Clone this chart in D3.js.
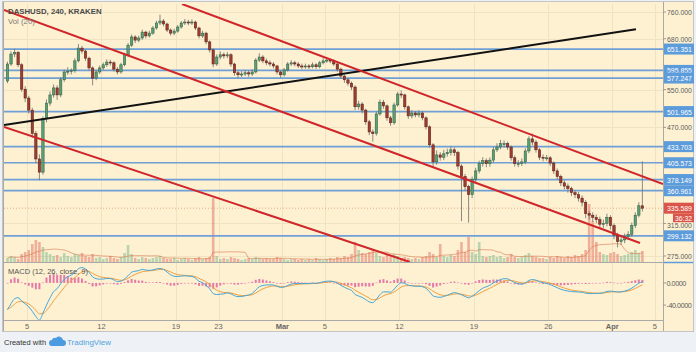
<!DOCTYPE html>
<html lang="en">
<head>
<meta charset="UTF-8">
<title>DASHUSD, 240, KRAKEN</title>
<script src="https://d3js.org/d3.v7.min.js"></script>
<style>
  body { margin: 0; background: #eef1f5; }
  svg text { font-family: "Liberation Sans", Arial, sans-serif; }
</style>
</head>
<body>
<div id="chart"></div>
<script>
// 8h candles starting 2018-02-03 04:00 UTC
const startTime = Date.UTC(2018, 1, 3, 4);
const stepMs = 8 * 3600 * 1000;
const firstOpen = 570;

const closes = [612,638,642,610,551,531,505,458,412,390,
  487,520,538,554,538,573,592,594,596,620,
  654,646,627,602,577,592,602,610,617,615,
  599,592,610,636,662,685,676,682,699,688,
  696,711,726,732,723,705,696,702,714,726,
  729,726,729,711,688,696,671,649,612,630,
  636,633,636,612,590,585,587,590,587,592,
  622,630,620,615,612,607,592,585,597,612,
  615,612,607,605,607,605,610,605,615,620,
  622,620,612,599,582,573,565,556,512,518,
  505,481,461,458,497,522,514,489,479,516,
  540,538,512,493,499,495,499,489,471,437,
  407,419,415,421,423,428,423,400,383,367,
  355,378,392,404,409,404,410,428,433,439,
  439,433,414,404,404,407,426,448,442,428,
  415,414,414,405,392,383,373,368,364,358,
  355,350,344,328,326,323,320,314,315,323,
  312,300,292,294,298,301,312,326,339,335.589];

const highs = [618,645,652,646,614,558,536,510,463,420,
  492,528,546,562,560,579,598,604,601,627,
  665,660,650,631,606,597,608,616,624,623,
  619,604,615,641,668,692,690,689,706,703,
  703,717,733,752,738,727,710,709,720,732,
  738,736,737,733,715,703,700,675,653,637,
  645,642,643,640,615,595,594,597,596,599,
  627,640,635,626,621,617,610,596,602,617,
  622,620,617,613,613,612,616,614,620,627,
  629,627,624,615,603,586,578,569,560,525,
  522,508,485,466,502,528,527,517,493,521,
  545,548,541,515,505,503,505,503,492,474,
  440,427,424,428,430,434,432,426,403,387,
  370,383,397,409,415,413,415,433,440,446,
  445,443,436,418,410,413,431,453,458,446,
  431,420,419,417,408,396,386,377,372,367,
  362,359,354,347,332,330,327,324,320,328,
  326,315,303,299,302,305,316,330,344,408];

const lows = [565,607,630,604,545,522,498,450,405,377,
  386,480,514,532,527,533,568,585,586,590,
  616,639,620,596,560,572,587,597,605,608,
  593,586,588,606,631,657,668,670,677,681,
  683,691,706,720,716,699,689,690,697,709,
  720,719,720,705,681,682,664,642,604,607,
  624,626,627,605,583,577,580,582,580,582,
  588,617,614,609,606,601,586,578,581,593,
  607,606,602,599,600,599,601,600,601,611,
  615,614,607,593,576,566,559,549,505,506,
  498,475,455,443,454,493,508,483,473,475,
  512,531,506,487,488,490,490,484,466,432,
  398,402,409,410,416,418,417,394,318,361,
  316,350,374,388,399,398,399,406,424,429,
  432,428,409,399,398,400,403,422,436,423,
  410,408,409,400,387,378,368,363,358,353,
  350,345,338,322,320,317,315,309,309,311,
  307,295,285,288,290,294,298,309,323,331];

const volumes = [4,6,5,3,8,10,12,18,22,20,
  15,10,8,6,7,5,9,6,5,8,
  7,9,6,5,8,4,5,3,4,6,
  4,3,5,9,17,8,4,3,5,4,
  3,4,5,6,4,3,3,4,2,3,
  4,3,2,4,5,3,4,5,64,6,
  3,4,3,5,4,3,2,3,4,3,
  5,4,3,4,3,3,5,4,3,2,
  3,3,2,3,2,3,2,4,3,2,
  3,4,3,5,4,6,5,8,20,12,
  9,8,10,12,9,6,5,7,5,8,
  6,4,5,4,3,4,3,5,6,10,
  8,5,18,6,5,7,6,12,20,10,
  25,10,8,20,6,5,6,7,5,6,
  4,5,8,5,4,5,7,9,6,5,
  4,4,3,5,4,6,5,4,6,5,
  7,6,8,12,58,41,20,10,8,7,
  9,10,8,6,7,8,10,12,9,11];

// closes before the visible range, only to warm up the MACD averages
const warmupCloses = [800, 790, 775, 760, 740, 720, 700, 680, 655, 630, 600, 570, 545];

const levels = [651.351, 595.855, 577.247, 501.965, 433.703, 405.573, 378.149, 360.961, 299.132];
const lastPrice = 335.589;
const countdown = "36:32";
const priceTicks = [760, 680, 550, 470, 315, 275];
const macdTicks = [0, -40];
const dateTicks = [["2018-02-05", "5"], ["2018-02-12", "12"], ["2018-02-19", "19"], ["2018-02-23", "23"],
  ["2018-03-01", "Mar"], ["2018-03-05", "5"], ["2018-03-12", "12"], ["2018-03-19", "19"],
  ["2018-03-26", "26"], ["2018-04-01", "Apr"], ["2018-04-05", "5"]];

const trendLines = [
  { color: "#111111", pts: [["2018-02-02T20:10Z", 474.5], ["2018-04-03T05:30Z", 707]] },
  { color: "#d0262a", pts: [["2018-02-19T13:40Z", 785.8], ["2018-04-05T18:30Z", 371.2]] },
  { color: "#d0262a", pts: [["2018-02-02T20:10Z", 766.4], ["2018-04-03T14:40Z", 290.3]] },
  { color: "#d0262a", pts: [["2018-02-02T20:10Z", 470.7], ["2018-03-12T23:45Z", 268.2]] }
];

const W = 696, H = 352;
const left = 4, right = 663, mainTop = 4, mainBottom = 262, macdTop = 263, macdBottom = 320;

const svg = d3.select("#chart").append("svg").attr("width", W).attr("height", H);

svg.append("rect").attr("width", W).attr("height", H).attr("fill", "#eef1f5");
svg.append("rect").attr("x", 2.5).attr("y", 1.5).attr("width", 691).attr("height", 330)
  .attr("fill", "#fdf1d2").attr("stroke", "#c4c4c4");

const x = d3.scaleUtc()
  .domain([new Date("2018-02-02T20:10:00Z"), new Date("2018-04-05T18:30:00Z")])
  .range([left, right]);
const y = d3.scaleLog().domain([268.2, 785.8]).range([mainBottom, mainTop]);
const yVol = d3.scaleLinear().domain([0, 100]).range([mainBottom, mainBottom - 100]);
const yMacd = d3.scaleLinear().domain([-67, 36]).range([macdBottom, macdTop]);

const candles = closes.map((c, i) => ({
  t: new Date(startTime + i * stepMs),
  o: i ? closes[i - 1] : firstOpen,
  c: c, h: highs[i], l: lows[i], v: volumes[i]
}));

const defs = svg.append("defs");
defs.append("clipPath").attr("id", "clipMain").append("rect")
  .attr("x", left).attr("y", mainTop).attr("width", right - left).attr("height", mainBottom - mainTop);
defs.append("clipPath").attr("id", "clipMacd").append("rect")
  .attr("x", left).attr("y", macdTop).attr("width", right - left).attr("height", macdBottom - macdTop);

// grid
const grid = svg.append("g").attr("stroke", "#f0e3c2").attr("stroke-width", 1);
dateTicks.forEach(d => {
  const xx = Math.round(x(new Date(d[0] + "T00:00:00Z"))) + 0.5;
  grid.append("line").attr("x1", xx).attr("x2", xx).attr("y1", mainTop).attr("y2", macdBottom);
});
priceTicks.forEach(p => {
  const yy = Math.round(y(p)) + 0.5;
  grid.append("line").attr("x1", left).attr("x2", right).attr("y1", yy).attr("y2", yy);
});

const main = svg.append("g").attr("clip-path", "url(#clipMain)");

// volume
main.append("g").selectAll("rect").data(candles).join("rect")
  .attr("x", d => x(d.t) - 1.3)
  .attr("width", 2.6)
  .attr("y", d => yVol(d.v))
  .attr("height", d => mainBottom - yVol(d.v))
  .attr("fill", d => d.c >= d.o ? "rgba(107,175,131,0.45)" : "rgba(225,95,85,0.45)");

const volMa = candles.map((d, i) => {
  const s = volumes.slice(Math.max(0, i - 9), i + 1);
  return { t: d.t, v: d3.mean(s) };
});
main.append("path").datum(volMa)
  .attr("d", d3.line().x(d => x(d.t)).y(d => yVol(d.v)))
  .attr("fill", "none").attr("stroke", "rgba(215,120,80,0.6)").attr("stroke-width", 1);

// horizontal levels
main.append("g").selectAll("line").data(levels).join("line")
  .attr("x1", left).attr("x2", right)
  .attr("y1", d => y(d)).attr("y2", d => y(d))
  .attr("stroke", "#6f9fd6").attr("stroke-width", 1.7);

// last price line
main.append("line").attr("x1", left).attr("x2", right)
  .attr("y1", y(lastPrice)).attr("y2", y(lastPrice))
  .attr("stroke", "#e08a66").attr("stroke-opacity", 0.7).attr("stroke-dasharray", "1,2");

// candles
main.append("g").selectAll("line").data(candles).join("line")
  .attr("x1", d => x(d.t)).attr("x2", d => x(d.t))
  .attr("y1", d => y(d.h)).attr("y2", d => y(d.l))
  .attr("stroke", "#6e6e6e").attr("stroke-width", 0.8);
main.append("g").selectAll("rect").data(candles).join("rect")
  .attr("x", d => x(d.t) - 1.2)
  .attr("width", 2.4)
  .attr("y", d => y(Math.max(d.o, d.c)))
  .attr("height", d => Math.max(1, Math.abs(y(d.o) - y(d.c))))
  .attr("fill", d => d.c >= d.o ? "#5c9f74" : "#9c3e2f")
  .attr("stroke", d => d.c >= d.o ? "#2b5a3d" : "#5b1a13")
  .attr("stroke-width", 0.5);

// trend lines
trendLines.forEach(l => {
  const a = l.pts[0], b = l.pts[1];
  main.append("line")
    .attr("x1", x(new Date(a[0]))).attr("y1", y(a[1]))
    .attr("x2", x(new Date(b[0]))).attr("y2", y(b[1]))
    .attr("stroke", l.color).attr("stroke-width", 2);
});

// MACD
function ema(vals, period4h) {
  // a 4h EMA carried over onto 8h candles
  const k = 1 - Math.pow(1 - 2 / (period4h + 1), 2);
  let e = vals[0];
  return vals.map(v => (e = e + k * (v - e)));
}
const allCloses = warmupCloses.concat(closes);
const fast = ema(allCloses, 12), slow = ema(allCloses, 26);
const macdAll = fast.map((f, i) => f - slow[i]);
const sigAll = ema(macdAll, 9);
const off = warmupCloses.length;
const macd = candles.map((d, i) => ({ t: d.t, m: macdAll[i + off], s: sigAll[i + off] }));

const mg = svg.append("g").attr("clip-path", "url(#clipMacd)");
mg.append("g").selectAll("rect").data(macd).join("rect")
  .attr("x", d => x(d.t) - 1)
  .attr("width", 2)
  .attr("y", d => Math.min(yMacd(0), yMacd(d.m - d.s)))
  .attr("height", d => Math.max(0.6, Math.abs(yMacd(d.m - d.s) - yMacd(0))))
  .attr("fill", "#df5c9e").attr("fill-opacity", 0.8);
mg.append("path").datum(macd)
  .attr("d", d3.line().x(d => x(d.t)).y(d => yMacd(d.s)).curve(d3.curveMonotoneX))
  .attr("fill", "none").attr("stroke", "#f0a040").attr("stroke-width", 1);
mg.append("path").datum(macd)
  .attr("d", d3.line().x(d => x(d.t)).y(d => yMacd(d.m)).curve(d3.curveMonotoneX))
  .attr("fill", "none").attr("stroke", "#45a6d8").attr("stroke-width", 1);

// frame lines
const frame = svg.append("g").attr("stroke", "#a9a9a9").attr("stroke-width", 1);
frame.append("line").attr("x1", 3).attr("x2", right).attr("y1", mainBottom + 0.5).attr("y2", mainBottom + 0.5);
frame.append("line").attr("x1", 3).attr("x2", right).attr("y1", macdBottom + 0.5).attr("y2", macdBottom + 0.5);
frame.append("line").attr("x1", right + 0.5).attr("x2", right + 0.5).attr("y1", 2).attr("y2", 331);
frame.append("line").attr("x1", 3.5).attr("x2", 3.5).attr("y1", 2).attr("y2", 331);
svg.append("line").attr("x1", right + 1).attr("x2", 693).attr("y1", mainBottom + 0.5).attr("y2", mainBottom + 0.5)
  .attr("stroke", "#5d9cdb").attr("stroke-width", 1.5);

// price axis
const axisText = (g, xx, yy, s, fill) => g.append("text").attr("x", xx).attr("y", yy)
  .attr("fill", fill).attr("textLength", s.length * 3.55).attr("lengthAdjust", "spacingAndGlyphs").text(s);

const ax = svg.append("g").attr("font-size", 8);
priceTicks.forEach(p => {
  ax.append("line").attr("x1", right).attr("x2", right + 3).attr("y1", y(p)).attr("y2", y(p)).attr("stroke", "#999");
  axisText(ax, right + 4, y(p) + (p === 315 ? 4.5 : 3), p.toFixed(3), "#5c5c5c");
});
macdTicks.forEach(m => {
  ax.append("line").attr("x1", right).attr("x2", right + 3).attr("y1", yMacd(m)).attr("y2", yMacd(m)).attr("stroke", "#999");
  ax.append("text").attr("x", right + 3.5).attr("y", yMacd(m) + 3)
    .attr("font-size", 7.2).attr("letter-spacing", -0.45).attr("fill", "#5c5c5c").text(m.toFixed(4));
});

const lab = svg.append("g").attr("font-size", 8);
levels.forEach(v => {
  lab.append("rect").attr("x", right + 1).attr("y", y(v) - 5.5).attr("width", 30).attr("height", 11).attr("fill", "#5d9cdb");
  axisText(lab, right + 4, y(v) + 3, v.toFixed(3), "#fff");
});
lab.append("rect").attr("x", right + 1).attr("y", y(lastPrice) - 5.5).attr("width", 30).attr("height", 11).attr("fill", "#db5449");
axisText(lab, right + 4, y(lastPrice) + 3, lastPrice.toFixed(3), "#fff");
lab.append("rect").attr("x", right + 10).attr("y", y(lastPrice) + 5.5).attr("width", 21).attr("height", 8.5).attr("fill", "#db5449");
lab.append("text").attr("x", right + 12).attr("y", y(lastPrice) + 12.3).attr("font-size", 7)
  .attr("fill", "#fff").attr("textLength", 17).attr("lengthAdjust", "spacingAndGlyphs").text(countdown);

// date axis
const dx = svg.append("g").attr("font-size", 7.5).attr("fill", "#666").attr("text-anchor", "middle");
dateTicks.forEach(d => {
  dx.append("text").attr("x", x(new Date(d[0] + "T00:00:00Z"))).attr("y", 329)
    .attr("font-weight", isNaN(+d[1]) ? "bold" : "normal").text(d[1]);
});

// titles
svg.append("text").attr("x", 8).attr("y", 13.5).attr("font-size", 7.8).attr("font-weight", "bold")
  .attr("fill", "#4a4a4a").text("DASHUSD, 240, KRAKEN");
svg.append("text").attr("x", 8).attr("y", 23.5).attr("font-size", 7.8).attr("fill", "#7a7a7a").text("Vol (20)");
svg.append("text").attr("x", 8).attr("y", 274).attr("font-size", 7.5).attr("fill", "#555").text("MACD (12, 26, close, 9)");

// footer
svg.append("text").attr("x", 4).attr("y", 345).attr("font-size", 7.5).attr("fill", "#333").text("Created with");
svg.append("path")
  .attr("d", "M52,346 h11 a3,3 0 0 0 0,-6 a4,4 0 0 0 -7,-2 a3,3 0 0 0 -4,2 a2,2 0 0 0 0,6z")
  .attr("fill", "#4a9be0");
svg.append("text").attr("x", 67).attr("y", 345).attr("font-size", 8).attr("fill", "#4fa3e0").text("TradingView");
</script>
</body>
</html>
